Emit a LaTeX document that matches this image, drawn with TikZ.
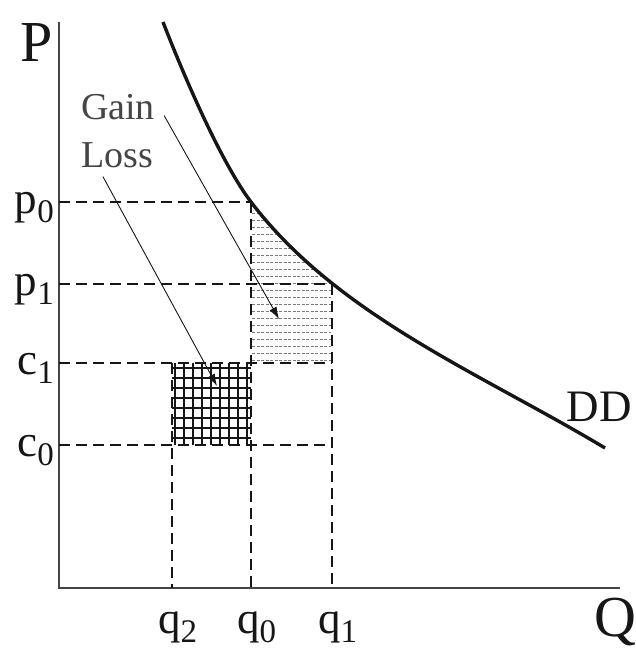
\documentclass[tikz,border=0pt]{standalone}
\usepackage{fontspec}
\setmainfont{Liberation Serif}
\usepackage{tikz}
\usetikzlibrary{arrows.meta}
\definecolor{ink}{HTML}{161616}
\definecolor{hatch}{HTML}{7A7A7A}
\newcommand{\lb}[2]{#1\raisebox{-0.22em}{\fontsize{33}{33}\selectfont #2}}

\begin{document}
\begin{tikzpicture}[x=1pt,y=-1pt,
  guide/.style={draw=ink, line width=1.5pt, dash pattern=on 11pt off 6pt},
  lab/.style={font=\fontsize{45}{45}\selectfont, inner sep=0pt, text=ink},
  big/.style={font=\fontsize{58}{58}\selectfont, inner sep=0pt, text=ink},
  note/.style={font=\fontsize{38}{38}\selectfont, inner sep=0pt, text=ink!80},
  arr/.style={draw=ink, line width=0.9pt, -{Latex[length=12pt,width=8pt]}}]
  \useasboundingbox (0,0) rectangle (635,652);
  % gain: under the demand curve, between q0 and q1
  \begin{scope}
    \clip (163,22) .. controls (187,84) and (223,165) .. (251,202)
      .. controls (338,316) and (480,373) .. (605,448) -- (605,652) -- (163,652) -- cycle;
    \foreach \y in {206,213,...,360}
      \draw[hatch, line width=0.8pt, dash pattern=on 3pt off 1.5pt] (252,\y) -- (331,\y);
  \end{scope}
  % loss: the grid between q2 and q0
  \foreach \y in {368,378,...,438}
    \draw[ink, line width=1.2pt] (172,\y) -- (251,\y);
  \foreach \x in {175,184,...,250}
    \draw[ink, line width=1.2pt] (\x,363) -- (\x,445);
  % axes
  \coordinate (o) at (59,588);
  \draw[ink!80, line width=1.3pt] (59,22) -- (o) -- (620,588);
  \node[big, anchor=base] (pax) at (37,62) {P};
  \node[big, anchor=base] (qax) at (615,636) {Q};
  % guide lines
  \foreach \t/\i/\y/\e in {p/0/202/251, p/1/284/332, c/1/363/332, c/0/445/332} {
    \node[lab, anchor=base east] (\t\i) at (54,\y+11) {\lb{\t}{\i}};
    \draw[guide] (59,\y) -- (\e,\y);}
  \foreach \i/\x/\s in {2/172/363, 0/251/202, 1/332/284} {
    \node[lab, anchor=base west] (q\i) at (\x-14,633) {\lb{q}{\i}};
    \draw[guide] (\x,\s) -- (\x,588);}
  % demand curve
  \draw[ink, line width=3.4pt] (163,22) .. controls (187,84) and (223,165) .. (251,202)
    .. controls (338,316) and (480,373) .. (605,448);
  \node[lab, anchor=base] (dd) at (599,421) {DD};
  % labels with arrows
  \node[note, anchor=base] (gain) at (118,120) {Gain};
  \node[note, anchor=base] (loss) at (117,168) {Loss};
  \coordinate (gtip) at (279,319);
  \coordinate (ltip) at (217,386);
  \draw[arr] ([shift={(9,-5)}]gain.south east) -- (gtip);
  \draw[arr] ([shift={(22,8)}]loss.south west) -- (ltip);
\end{tikzpicture}
\end{document}
